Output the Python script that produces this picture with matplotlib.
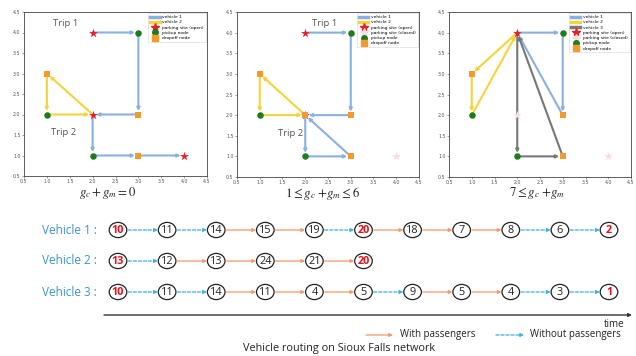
import matplotlib
matplotlib.use('Agg')
import matplotlib.pyplot as plt
from matplotlib.patches import Ellipse
from matplotlib.lines import Line2D

plt.rcParams['mathtext.fontset'] = 'stix'

# ---------------- data: grid panels ----------------
ticks = [0.5, 1.0, 1.5, 2.0, 2.5, 3.0, 3.5, 4.0, 4.5]

p1_v1 = [(2, 4), (3, 4), (3, 2), (2, 2), (2, 1), (3, 1), (4, 1)]
p1_v2 = [(2, 2), (1, 3), (1, 2), (2, 2)]
p1_open = [(2, 4), (2, 2), (4, 1)]
p1_closed = []
p1_pickup = [(3, 4), (1, 2), (2, 1)]
p1_dropoff = [(1, 3), (3, 2), (3, 1)]

p2_v1 = [(2, 4), (3, 4), (3, 2), (2, 2), (2, 1), (3, 1), (2, 2)]
p2_v2 = [(2, 2), (1, 3), (1, 2), (2, 2)]
p2_open = [(2, 4), (2, 2)]
p2_closed = [(4, 1)]
p2_pickup = [(3, 4), (1, 2), (2, 1)]
p2_dropoff = [(1, 3), (3, 2), (3, 1), (2, 2)]

p3_v1 = [(2, 4), (3, 4), (3, 2), (2, 4)]
p3_v2 = [(2, 4), (1, 3), (1, 2), (2, 4)]
p3_v3 = [(2, 4), (2, 1), (3, 1), (2, 4)]
p3_open = [(2, 4)]
p3_closed = [(2, 2), (4, 1)]
p3_pickup = [(3, 4), (1, 2), (2, 1)]
p3_dropoff = [(1, 3), (3, 2), (3, 1)]

panel_titles = [r'$g_c + g_m = 0$',
                r'$1 \leq g_c\ {+}g_m \leq 6$',
                r'$7 \leq g_c\ {+}g_m$']
trip_labels = [[('Trip 1', 1.13, 4.21), ('Trip 2', 1.09, 1.55)],
               [('Trip 1', 2.15, 4.21), ('Trip 2', 1.4, 1.55)],
               []]

# ---------------- data: routing sequences ----------------
veh_labels = ['Vehicle 1 :', 'Vehicle 2 :', 'Vehicle 3 :']
veh1_nodes = ['10', '11', '14', '15', '19', '20', '18', '7', '8', '6', '2']
veh1_red = [True, False, False, False, False, True, False, False, False, False, True]
veh1_loaded = [False, False, True, True, False, True, True, True, False, False]
veh2_nodes = ['13', '12', '13', '24', '21', '20']
veh2_red = [True, False, False, False, False, True]
veh2_loaded = [False, True, True, True, True]
veh3_nodes = ['10', '11', '14', '11', '4', '5', '9', '5', '4', '3', '1']
veh3_red = [True, False, False, False, False, False, False, False, False, False, True]
veh3_loaded = [False, False, True, True, True, False, True, True, False, False]

C_V1 = '#8ab0e2'
C_V2 = '#f6d33a'
C_V3 = '#777777'
C_STAR = '#e4202a'
C_CLOSED = '#f8dede'
C_PICK = '#1e7b1e'
C_DROP = '#f39a2c'
C_SOLID = '#f29a6c'
C_DASH = '#3ab0e0'
C_LABEL = '#3b93d0'

fig = plt.figure(figsize=(6.36, 3.56), dpi=100)
W, H = 636.0, 356.0

def ax_rect(l, r, t, b):
    return [l / W, (H - b) / H, (r - l) / W, (b - t) / H]

rects = [ax_rect(24, 207, 12, 176), ax_rect(237, 419, 12, 177), ax_rect(449, 631, 12, 177)]
title_pos = [(108, 193), (323, 194), (537, 193)]

panels = [
    ([(p1_v1, C_V1, 'vehicle 1'), (p1_v2, C_V2, 'vehicle 2')], p1_open, p1_closed, p1_pickup, p1_dropoff),
    ([(p2_v1, C_V1, 'vehicle 1'), (p2_v2, C_V2, 'vehicle 2')], p2_open, p2_closed, p2_pickup, p2_dropoff),
    ([(p3_v1, C_V1, 'vehicle 1'), (p3_v2, C_V2, 'vehicle 2'), (p3_v3, C_V3, 'vehicle 3')],
     p3_open, p3_closed, p3_pickup, p3_dropoff),
]

for k, (routes, opens, closed, picks, drops) in enumerate(panels):
    ax = fig.add_axes(rects[k])
    ax.set_xlim(0.5, 4.5)
    ax.set_ylim(0.5, 4.5)
    ax.set_xticks(ticks)
    ax.set_yticks(ticks)
    ax.set_xticklabels([f'{t:.1f}' for t in ticks])
    ax.set_yticklabels([f'{t:.1f}' for t in ticks])
    ax.tick_params(labelsize=3.4, colors='#555555', length=1.5, width=0.4, pad=1)
    for s in ax.spines.values():
        s.set_color('#444444')
        s.set_linewidth(0.6)
    handles = []
    for route, col, lab in routes:
        for a, b in zip(route[:-1], route[1:]):
            ax.annotate('', xy=b, xytext=a,
                        arrowprops=dict(arrowstyle='-|>', color=col, lw=1.5,
                                        mutation_scale=4, shrinkA=0, shrinkB=2.5),
                        zorder=2)
        handles.append(Line2D([], [], color=col, lw=2.5, label=lab))
    if opens:
        ax.scatter([p[0] for p in opens], [p[1] for p in opens], marker='*', s=45,
                   color=C_STAR, zorder=3, linewidths=0)
    handles.append(Line2D([], [], marker='*', color=C_STAR, ls='', ms=6, label='parking site (open)'))
    if closed:
        ax.scatter([p[0] for p in closed], [p[1] for p in closed], marker='*', s=45,
                   color=C_CLOSED, zorder=3, linewidths=0)
        handles.append(Line2D([], [], marker='*', color=C_CLOSED, ls='', ms=6, label='parking site (closed)'))
    ax.scatter([p[0] for p in picks], [p[1] for p in picks], marker='o', s=22,
               color=C_PICK, zorder=4, linewidths=0)
    ax.scatter([p[0] for p in drops], [p[1] for p in drops], marker='s', s=22,
               color=C_DROP, zorder=4, linewidths=0)
    handles.append(Line2D([], [], marker='o', color=C_PICK, ls='', ms=4, label='pickup node'))
    handles.append(Line2D([], [], marker='s', color=C_DROP, ls='', ms=4, label='dropoff node'))
    leg = ax.legend(handles=handles, loc='upper right', fontsize=3.2, frameon=True,
                    handlelength=2.2, borderpad=0.4, labelspacing=0.25, handletextpad=0.6,
                    fancybox=False, edgecolor='#cccccc', borderaxespad=0.3)
    leg.get_frame().set_linewidth(0.4)
    for txt, tx, ty in trip_labels[k]:
        ax.text(tx, ty, txt, fontsize=6.8, color='#555555', ha='left', va='center',
                family='Open Sans')

# ---------------- bottom routing diagram ----------------
bx = fig.add_axes([0, 0, 1, 1], zorder=-1)
bx.set_xlim(0, W)
bx.set_ylim(H, 0)
bx.axis('off')

for t, (tx, ty) in zip(panel_titles, title_pos):
    bx.text(tx, ty, t, fontsize=9.2, ha='center', va='center', color='#222222')

row_y = [230, 261, 292]
x0, dx = 118, 49.1
rows = [(veh1_nodes, veh1_red, veh1_loaded),
        (veh2_nodes, veh2_red, veh2_loaded),
        (veh3_nodes, veh3_red, veh3_loaded)]
rx, ry = 8.8, 7.6
for (nodes, reds, loaded), y, lab in zip(rows, row_y, veh_labels):
    bx.text(97, y, lab, fontsize=8.5, color=C_LABEL, ha='right', va='center', family='Open Sans')
    xs = [x0 + i * dx for i in range(len(nodes))]
    for x, n, r in zip(xs, nodes, reds):
        bx.add_patch(Ellipse((x, y), 2 * rx, 2 * ry, fill=False, lw=0.9, ec='#222222'))
        bx.text(x, y + 0.3, n, fontsize=7.8, ha='center', va='center',
                color='#e8101a' if r else '#222222', fontweight='bold' if r else 'normal',
                family='Open Sans')
    for i, ld in enumerate(loaded):
        a, b = xs[i] + rx + 1.5, xs[i + 1] - rx - 0.5
        if ld:
            bx.annotate('', xy=(b, y), xytext=(a, y),
                        arrowprops=dict(arrowstyle='-|>', color=C_SOLID, lw=0.9,
                                        mutation_scale=5, shrinkA=0, shrinkB=0))
        else:
            bx.annotate('', xy=(b, y), xytext=(a, y),
                        arrowprops=dict(arrowstyle='-|>', color=C_DASH, lw=0.9, ls=(0, (2.5, 1.5)),
                                        mutation_scale=5, shrinkA=0, shrinkB=0))

# time axis
bx.annotate('', xy=(632, 315), xytext=(104, 315),
            arrowprops=dict(arrowstyle='-|>', color='#333333', lw=1.0, mutation_scale=5,
                            shrinkA=0, shrinkB=0))
bx.text(624, 324.5, 'time', fontsize=7, ha='right', va='center', color='#222222', family='Open Sans')

# legend of bottom diagram
bx.annotate('', xy=(393, 335), xytext=(366, 335),
            arrowprops=dict(arrowstyle='-|>', color=C_SOLID, lw=0.9, mutation_scale=5,
                            shrinkA=0, shrinkB=0))
bx.text(400, 335, 'With passengers', fontsize=7, ha='left', va='center', color='#222222',
        family='Open Sans')
bx.annotate('', xy=(524, 335), xytext=(496, 335),
            arrowprops=dict(arrowstyle='-|>', color=C_DASH, lw=0.9, ls=(0, (2.5, 1.5)),
                            mutation_scale=5, shrinkA=0, shrinkB=0))
bx.text(530, 335, 'Without passengers', fontsize=7, ha='left', va='center', color='#222222',
        family='Open Sans')
bx.text(339, 348, 'Vehicle routing on Sioux Falls network', fontsize=7.8, ha='center', va='center',
        color='#222222', family='Open Sans')

fig.savefig('out.png', dpi=100)
